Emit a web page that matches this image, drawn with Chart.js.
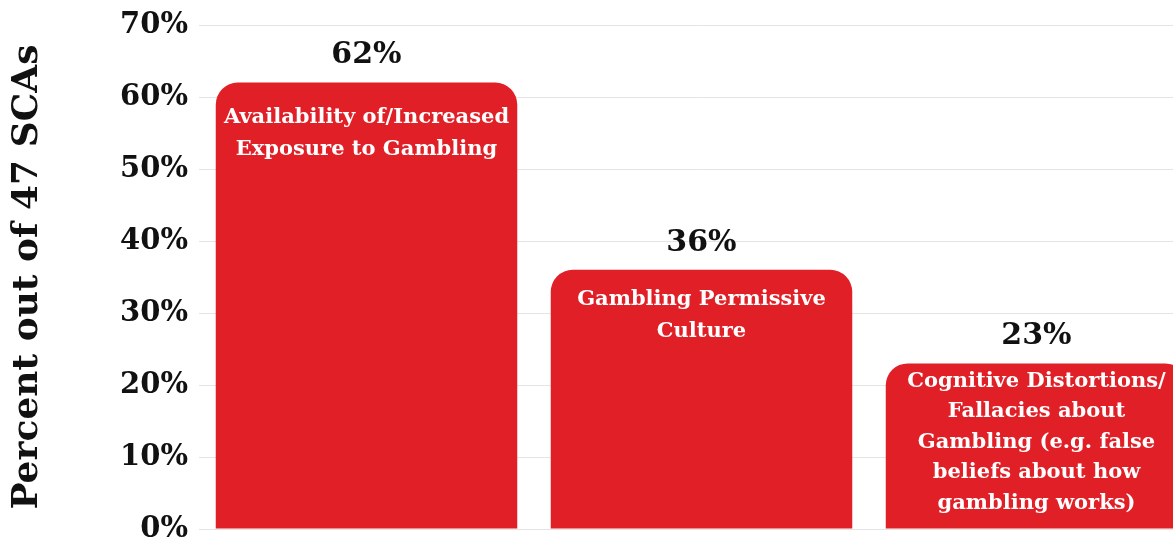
<!DOCTYPE html>
<html>
<head>
<meta charset="utf-8">
<script src="https://cdn.jsdelivr.net/npm/chart.js@4/dist/chart.umd.min.js"></script>
<style>
  html, body { margin: 0; padding: 0; background: #ffffff; overflow: hidden; }
  #wrap { width: 1173px; height: 544px; overflow: hidden; position: relative; }
  #box { width: 1204px; height: 544px; position: absolute; left: 0; top: 0; }
</style>
</head>
<body>
<div id="wrap"><div id="box"><canvas id="c"></canvas></div></div>
<script>
// ---- data ----
const categories = [
  ["Availability of/Increased", "Exposure to Gambling"],
  ["Gambling Permissive", "Culture"],
  ["Cognitive Distortions/", "Fallacies about", "Gambling (e.g. false", "beliefs about how", "gambling works)"]
];
const percentValues = [62, 36, 23];
const yTickValues = [0, 10, 20, 30, 40, 50, 60, 70];
const yAxisTitle = "Percent out of 47 SCAs";

// ---- style ----
const FONT = "'DejaVu Serif', Georgia, serif";
const barColor = "#E11F27";
const innerLabelTopOffset = [35, 30, 18];
const innerLineHeight = [32, 32, 30.5];

const barTextPlugin = {
  id: 'barText',
  afterDatasetsDraw(chart) {
    const ctx = chart.ctx;
    const meta = chart.getDatasetMeta(0);
    meta.data.forEach((bar, i) => {
      ctx.save();
      ctx.fillStyle = '#111111';
      ctx.font = "bold 30px " + FONT;
      ctx.textAlign = 'center';
      ctx.textBaseline = 'middle';
      ctx.fillText(percentValues[i] + '%', bar.x, bar.y - 27);
      ctx.fillStyle = '#ffffff';
      ctx.font = "bold 21px " + FONT;
      const lines = categories[i];
      lines.forEach((ln, k) => {
        ctx.fillText(ln, bar.x, bar.y + innerLabelTopOffset[i] + k * innerLineHeight[i]);
      });
      ctx.restore();
    });
  }
};

new Chart(document.getElementById('c'), {
  type: 'bar',
  data: {
    labels: categories.map(c => c.join(' ')),
    datasets: [{
      data: percentValues,
      backgroundColor: barColor,
      borderWidth: 0,
      borderRadius: { topLeft: 22, topRight: 22, bottomLeft: 0, bottomRight: 0 },
      borderSkipped: 'bottom',
      barPercentage: 0.9,
      categoryPercentage: 1.0
    }]
  },
  options: {
    responsive: true,
    maintainAspectRatio: false,
    animation: false,
    layout: { padding: { top: 25, bottom: 15, left: 0, right: 0 } },
    plugins: { legend: { display: false }, tooltip: { enabled: false } },
    scales: {
      x: {
        display: false
      },
      y: {
        min: 0,
        max: 70,
        afterBuildTicks(scale) { scale.ticks = yTickValues.map(v => ({ value: v })); },
        ticks: {
          padding: 11,
          color: '#111111',
          font: { family: FONT, weight: 'bold', size: 29 },
          callback: v => v + '%'
        },
        grid: { color: '#e4e4e4', lineWidth: 1, drawTicks: false },
        border: { display: false },
        title: {
          display: true,
          text: yAxisTitle,
          color: '#111111',
          font: { family: FONT, weight: 'bold', size: 36 },
          padding: { top: 6, bottom: 0 }
        },
        afterFit(scale) {
          scale.width = 199;
          scale.paddingTop = 0;
          scale.paddingBottom = 0;
        }
      }
    }
  },
  plugins: [barTextPlugin]
});
</script>
</body>
</html>
